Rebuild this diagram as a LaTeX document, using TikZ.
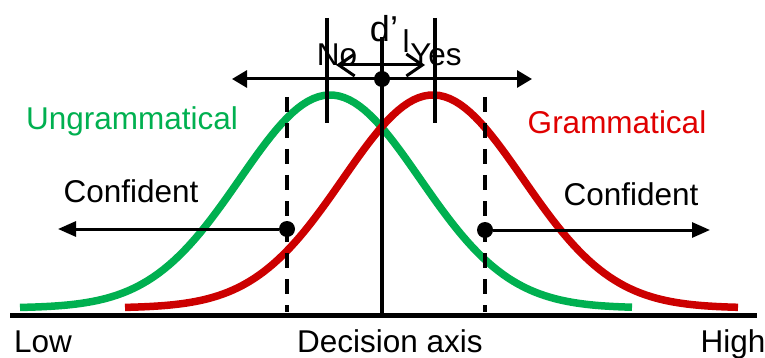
\documentclass[tikz,border=0pt]{standalone}
\usepackage{fontspec}
\setmainfont{Liberation Sans}
\usetikzlibrary{positioning, arrows.meta}
\definecolor{ungreen}{HTML}{00B050}
\definecolor{gramred}{HTML}{CC0000}
\definecolor{gramtext}{HTML}{E00000}

\begin{document}
\begin{tikzpicture}[
      x=1pt, y=-1pt,
      % Styling nodes
      txt/.style={font=\fontsize{31.5}{36}\selectfont, inner sep=0pt, anchor=base},
      dot/.style={circle, fill=black, inner sep=0pt, minimum size=16pt},
      curve/.style={line width=7.5pt},
      marker/.style={line width=3.3pt},
      cutoff/.style={line width=3.3pt, dash pattern=on 15pt off 11pt},
      arrow/.style={-{Triangle[length=18pt, width=15pt]}, line width=3pt},
      twoway/.style={{Triangle[length=15pt, width=17pt]}-{Triangle[length=15pt, width=17pt]}, line width=3pt},
      barbs/.style={{Straight Barb[length=16pt, width=22pt]}-{Straight Barb[length=16pt, width=22pt]}, line width=3pt}
    ]
    \useasboundingbox (0,0) rectangle (765,358);

    % Distributions
    \draw[curve, ungreen] plot[domain=20:632, samples=120] (\x, {308-213*exp(-0.5*((\x-330)/90)^2)});
    \draw[curve, gramred] plot[domain=125:738, samples=120] (\x, {308-213*exp(-0.5*((\x-433)/90)^2)});

    % Decision axis
    \coordinate (axl) at (10,315);
    \coordinate (axr) at (757,315);
    \draw[line width=5pt] (axl) -- (axr);

    % Labels
    \node (low) [txt] at (43,352) {Low};
    \node (axis) [txt] at (390,352) {Decision axis};
    \node (high) [txt] at (733,352) {High};
    \node (ungram) [txt, text=ungreen] at (132,130) {Ungrammatical};
    \node (gram) [txt, text=gramtext] at (617,134) {Grammatical};
    \node (confl) [txt] at (131,203) {Confident};
    \node (confr) [txt] at (631,205) {Confident};
    \node (no) [txt] at (337,66) {No};
    \node (yes) [txt] at (436,66) {Yes};
    \node (dprime) [txt, font=\fontsize{36}{40}\selectfont] at (384,42) {d’};
    \node (sub) [txt] at (406,53) {l};

    % Criterion and means
    \node (crit) [dot] at (382,79) {};
    \node (lowc) [dot] at (287,229) {};
    \node (highc) [dot] at (485,230) {};
    \coordinate (ctop) at (382,37);
    \coordinate (cbot) at (382,315);
    \draw[marker] (ctop) -- (cbot);
    \coordinate (notop) at (327,18);
    \coordinate (nobot) at (327,123);
    \coordinate (yestop) at (435,18);
    \coordinate (yesbot) at (435,123);
    \draw[marker] (notop) -- (nobot);
    \draw[marker] (yestop) -- (yesbot);
    \coordinate (lowtop) at (287,97);
    \coordinate (lowbot) at (287,312);
    \coordinate (hightop) at (485,97);
    \coordinate (highbot) at (485,312);
    \draw[cutoff] (lowtop) -- (lowbot);
    \draw[cutoff] (hightop) -- (highbot);

    % Arrows
    \coordinate (bigl) at (232,79);
    \coordinate (bigr) at (532,79);
    \draw[twoway] (bigl) -- (bigr);
    \coordinate (smalll) at (336,65);
    \coordinate (smallr) at (425,65);
    \draw[barbs] (smalll) -- (smallr);
    \coordinate (farl) at (58,229);
    \coordinate (farr) at (710,230);
    \draw[arrow] (lowc) -- (farl);
    \draw[arrow] (highc) -- (farr);

  \end{tikzpicture}
\end{document}
